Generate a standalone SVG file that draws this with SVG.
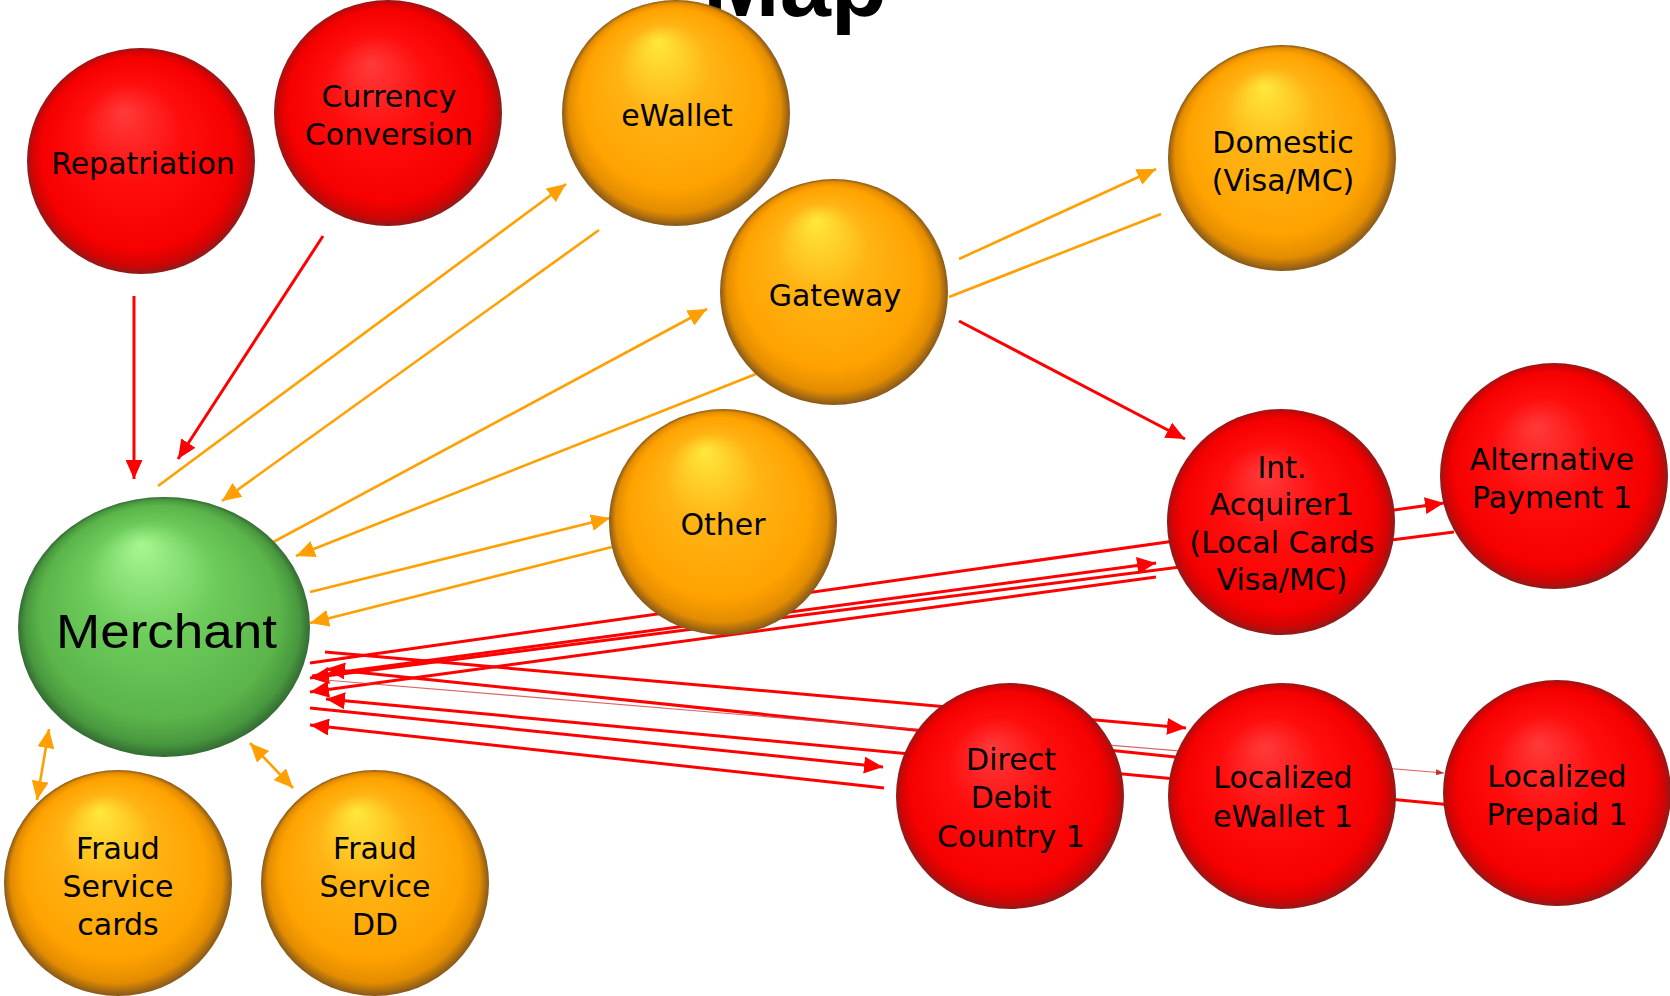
<svg xmlns="http://www.w3.org/2000/svg" width="1670" height="996" viewBox="0 0 1670 996">
<defs>
  <radialGradient id="gRed" cx="50%" cy="50%" r="50%" fx="42%" fy="28%">
    <stop offset="0" stop-color="#ff3a3a"/>
    <stop offset="0.45" stop-color="#ff0d0d"/>
    <stop offset="0.85" stop-color="#f60000"/>
    <stop offset="0.95" stop-color="#d20404"/>
    <stop offset="1" stop-color="#8e1a1a"/>
  </radialGradient>
  <radialGradient id="gOrange" cx="50%" cy="50%" r="50%" fx="42%" fy="18%">
    <stop offset="0" stop-color="#ffe83c"/>
    <stop offset="0.4" stop-color="#ffb414"/>
    <stop offset="0.8" stop-color="#ffa200"/>
    <stop offset="0.93" stop-color="#e38c00"/>
    <stop offset="1" stop-color="#87581a"/>
  </radialGradient>
  <radialGradient id="gGreen" cx="50%" cy="50%" r="50%" fx="42%" fy="18%">
    <stop offset="0" stop-color="#a8f790"/>
    <stop offset="0.45" stop-color="#6ccb5a"/>
    <stop offset="0.82" stop-color="#5bb54a"/>
    <stop offset="0.94" stop-color="#48983e"/>
    <stop offset="1" stop-color="#336b33"/>
  </radialGradient>
  <marker id="aRed" viewBox="0 0 19 17" markerWidth="19" markerHeight="17" refX="19" refY="8.5" orient="auto-start-reverse" markerUnits="userSpaceOnUse">
    <path d="M0,0 L19,8.5 L0,17 z" fill="#ff0000"/>
  </marker>
  <marker id="aOrange" viewBox="0 0 19 17" markerWidth="19" markerHeight="17" refX="19" refY="8.5" orient="auto-start-reverse" markerUnits="userSpaceOnUse">
    <path d="M0,0 L19,8.5 L0,17 z" fill="#ffa000"/>
  </marker>
  <marker id="aFaint" viewBox="0 0 8 6" markerWidth="8" markerHeight="6" refX="8" refY="3" orient="auto" markerUnits="userSpaceOnUse">
    <path d="M0,0 L8,3 L0,6 z" fill="#c83030"/>
  </marker>
</defs>
<style>
  .red { stroke: #ff0000; stroke-width: 3; fill: none; marker-end: url(#aRed); }
  .org { stroke: #ffa000; stroke-width: 2.6; fill: none; marker-end: url(#aOrange); }
  .orgn { stroke: #ffa000; stroke-width: 2.6; fill: none; }
  .both { marker-start: url(#aOrange); }
  .faint { stroke: #d04040; stroke-width: 1.2; stroke-opacity: 0.8; fill: none; marker-end: url(#aFaint); }
  .nR { fill: url(#gRed); }
  .nO { fill: url(#gOrange); }
  .nG { fill: url(#gGreen); }
  .lbl { font-family: "DejaVu Sans", "Liberation Sans", sans-serif; font-size: 30px; fill: #000; text-anchor: middle; }
  .big { font-family: "Liberation Sans", Arial, sans-serif; font-size: 49px; fill: #000; }
</style>
<rect width="1670" height="996" fill="#ffffff"/>
<text x="703" y="16" font-family="Liberation Sans, Arial, sans-serif" font-weight="bold" font-size="92" fill="#000">Map</text>
<g id="connectors">
  <line class="red" x1="134" y1="296" x2="134" y2="479"/>
  <line class="red" x1="323" y1="236" x2="178" y2="459"/>
  <line class="red" x1="959" y1="321" x2="1185" y2="439"/>
  <line class="red" x1="310" y1="663" x2="1444" y2="503"/>
  <line class="red" x1="312" y1="676" x2="1156" y2="563"/>
  <line class="red" x1="1454" y1="532" x2="310" y2="678"/>
  <line class="red" x1="1156" y1="577" x2="310" y2="692"/>
  <line class="red" x1="325" y1="652" x2="1186" y2="728"/>
  <line class="red" x1="1185" y1="758" x2="326" y2="669"/>
  <line class="red" x1="1452" y1="805" x2="326" y2="699"/>
  <line class="red" x1="310" y1="708" x2="883" y2="767"/>
  <line class="red" x1="884" y1="788" x2="310" y2="725"/>
  <line class="faint" x1="325" y1="680" x2="1444" y2="773"/>
  <line class="org" x1="158" y1="486" x2="566" y2="184"/>
  <line class="org" x1="599" y1="230" x2="222" y2="501"/>
  <line class="org" x1="264" y1="547" x2="707" y2="309"/>
  <line class="org" x1="756" y1="374" x2="296" y2="556"/>
  <line class="org" x1="310" y1="592" x2="610" y2="518"/>
  <line class="org" x1="612" y1="547" x2="310" y2="623"/>
  <line class="org" x1="959" y1="259" x2="1156" y2="169"/>
  <line class="orgn" x1="1161" y1="214" x2="949" y2="297"/>
  <line class="org both" x1="37" y1="800" x2="49" y2="729"/>
  <line class="org both" x1="250" y1="743" x2="293" y2="788"/>
</g>
<g id="repatriation">
  <ellipse class="nR" cx="141" cy="161" rx="114" ry="113"/>
  <text class="lbl" x="143" y="174">Repatriation</text>
</g>
<g id="currency-conversion">
  <ellipse class="nR" cx="388" cy="113" rx="114" ry="113"/>
  <text class="lbl" x="389" y="107">Currency</text>
  <text class="lbl" x="389" y="145">Conversion</text>
</g>
<g id="ewallet">
  <ellipse class="nO" cx="676" cy="113" rx="114" ry="113"/>
  <text class="lbl" x="677" y="126">eWallet</text>
</g>
<g id="domestic">
  <ellipse class="nO" cx="1282" cy="158" rx="114" ry="113"/>
  <text class="lbl" x="1283" y="153">Domestic</text>
  <text class="lbl" x="1283" y="191">(Visa/MC)</text>
</g>
<g id="gateway">
  <ellipse class="nO" cx="834" cy="292" rx="114" ry="113"/>
  <text class="lbl" x="835" y="306">Gateway</text>
</g>
<g id="other">
  <ellipse class="nO" cx="723" cy="522" rx="114" ry="113"/>
  <text class="lbl" x="723" y="535">Other</text>
</g>
<g id="int-acquirer">
  <ellipse class="nR" cx="1281" cy="522" rx="114" ry="113"/>
  <text class="lbl" x="1282" y="478">Int.</text>
  <text class="lbl" x="1282" y="515">Acquirer1</text>
  <text class="lbl" x="1282" y="553">(Local Cards</text>
  <text class="lbl" x="1282" y="590">Visa/MC)</text>
</g>
<g id="alternative-payment">
  <ellipse class="nR" cx="1554" cy="476" rx="114" ry="113"/>
  <text class="lbl" x="1552" y="470">Alternative</text>
  <text class="lbl" x="1552" y="508">Payment 1</text>
</g>
<g id="direct-debit">
  <ellipse class="nR" cx="1010" cy="796" rx="114" ry="113"/>
  <text class="lbl" x="1011" y="770">Direct</text>
  <text class="lbl" x="1011" y="808">Debit</text>
  <text class="lbl" x="1011" y="847">Country 1</text>
</g>
<g id="localized-ewallet">
  <ellipse class="nR" cx="1282" cy="796" rx="114" ry="113"/>
  <text class="lbl" x="1283" y="788">Localized</text>
  <text class="lbl" x="1283" y="827">eWallet 1</text>
</g>
<g id="localized-prepaid">
  <ellipse class="nR" cx="1557" cy="793" rx="114" ry="113"/>
  <text class="lbl" x="1557" y="787">Localized</text>
  <text class="lbl" x="1557" y="825">Prepaid 1</text>
</g>
<g id="fraud-cards">
  <ellipse class="nO" cx="118" cy="883" rx="114" ry="113"/>
  <text class="lbl" x="118" y="859">Fraud</text>
  <text class="lbl" x="118" y="897">Service</text>
  <text class="lbl" x="118" y="935">cards</text>
</g>
<g id="fraud-dd">
  <ellipse class="nO" cx="375" cy="883" rx="114" ry="113"/>
  <text class="lbl" x="375" y="859">Fraud</text>
  <text class="lbl" x="375" y="897">Service</text>
  <text class="lbl" x="375" y="935">DD</text>
</g>
<g id="merchant">
  <ellipse class="nG" cx="164" cy="627" rx="146" ry="130"/>
  <text class="big" x="56" y="648" textLength="221" lengthAdjust="spacingAndGlyphs">Merchant</text>
</g>
</svg>
